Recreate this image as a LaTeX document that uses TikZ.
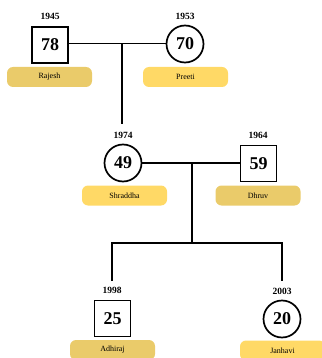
\documentclass[tikz,border=0pt]{standalone}
\usepackage{fontspec}
\setmainfont{Liberation Serif}
\definecolor{male}{HTML}{EACB6A}
\definecolor{female}{HTML}{FFD966}
\tikzset{
  every picture/.style={x=1pt,y=-1pt},
  mbox/.style={draw, line width=1.7pt, minimum size=36pt, inner sep=0pt, font=\bfseries\fontsize{18}{18}\selectfont},
  fcirc/.style={draw, circle, line width=1.7pt, minimum size=37pt, inner sep=0pt, font=\bfseries\fontsize{18}{18}\selectfont},
  year/.style={font=\bfseries\fontsize{9.5}{9.5}\selectfont, inner sep=0pt},
  mlab/.style={fill=male, rounded corners=6pt, minimum width=85pt, minimum height=20pt, inner sep=0pt, font=\fontsize{8}{8}\selectfont},
  flab/.style={fill=female, rounded corners=6pt, minimum width=85pt, minimum height=20pt, inner sep=0pt, font=\fontsize{8}{8}\selectfont},
  link/.style={line width=1.6pt}
}
\begin{document}
\begin{tikzpicture}
\useasboundingbox (0,0) rectangle (321,358);
% generation 1
\node[year] (y1945) at (50,16) {1945};
\node[mbox] (rajesh) at (50,45) {78};
\node[mlab] (lrajesh) at (49.5,77) {Rajesh};
\node[year] (y1953) at (185,16) {1953};
\node[fcirc] (preeti) at (185,44) {70};
\node[flab] (lpreeti) at (185.5,77) {Preeti};
% generation 2
\node[year] (y1974) at (123,135) {1974};
\node[fcirc] (shraddha) at (123,163) {49};
\node[flab] (lshraddha) at (124.5,195.5) {Shraddha};
\node[year] (y1964) at (258,135) {1964};
\node[mbox] (dhruv) at (258.5,163.5) {59};
\node[mlab] (ldhruv) at (258,195.5) {Dhruv};
% generation 3
\node[year] (y1998) at (112,290) {1998};
\node[mbox] (adhiraj) at (112.5,318.5) {25};
\node[mlab] (ladhiraj) at (112.5,350) {Adhiraj};
\node[year] (y2003) at (282,291) {2003};
\node[fcirc] (janhavi) at (282,319) {20};
\node[flab] (ljanhavi) at (282.5,350.5) {Janhavi};
% connectors
\coordinate (m1) at (122,43.5);
\coordinate (m1b) at (122,124);
\draw[link] (rajesh.east |- m1) -- (preeti.west |- m1);
\draw[link] (m1) -- (m1b);
\coordinate (m2) at (192,163);
\coordinate (m2b) at (192,243);
\draw[link] (shraddha.east) -- (dhruv.west |- shraddha.east);
\draw[link] (m2) -- (m2b);
\coordinate (c1) at (112,243);
\coordinate (c2) at (282,243);
\coordinate (c1b) at (112,281);
\coordinate (c2b) at (282,281);
\draw[link] (c1b) -- (c1) -- (c2) -- (c2b);
\end{tikzpicture}
\end{document}
